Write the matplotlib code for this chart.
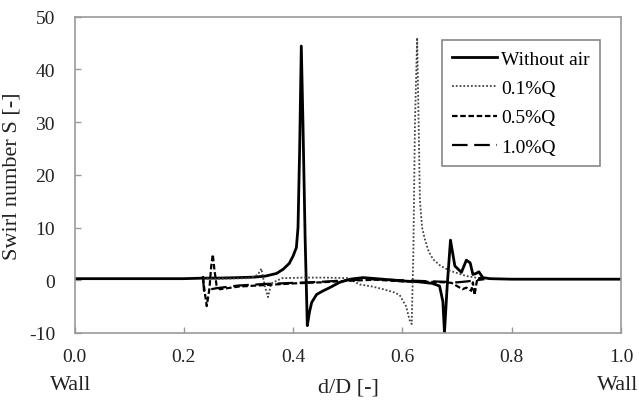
import matplotlib
matplotlib.use("Agg")
import matplotlib.pyplot as plt

plt.rcParams['font.family'] = ['Liberation Serif', 'DejaVu Serif']
plt.rcParams['axes.unicode_minus'] = False

# Without air
x_noair = [0.0, 0.05, 0.1, 0.15, 0.2, 0.235, 0.26, 0.3, 0.33, 0.35, 0.37, 0.382,
           0.393, 0.40, 0.406, 0.409, 0.412, 0.415, 0.418, 0.422, 0.426, 0.43,
           0.434, 0.443, 0.455, 0.467, 0.485, 0.504, 0.528, 0.564, 0.595, 0.63,
           0.655, 0.668, 0.674, 0.677, 0.682, 0.688, 0.696, 0.708, 0.717, 0.724,
           0.729, 0.735, 0.740, 0.747, 0.76, 0.8, 0.9, 1.0]
s_noair = [0.3, 0.3, 0.3, 0.3, 0.3, 0.4, 0.4, 0.5, 0.6, 0.8, 1.3, 2.1,
           3.2, 4.6, 6.2, 10, 25, 44.4, 30, 8, -8.6, -6.0,
           -4.2, -2.7, -2.0, -1.4, -0.4, 0.2, 0.5, 0.2, -0.1, -0.3,
           -0.6, -1.1, -4, -9.9, -1, 7.6, 2.7, 1.5, 3.8, 3.3,
           1.1, 1.3, 1.6, 0.5, 0.3, 0.2, 0.2, 0.2]

# 0.1%Q
x_q01 = [0.235, 0.28, 0.32, 0.335, 0.342, 0.348, 0.354, 0.36, 0.38, 0.42, 0.46,
         0.50, 0.522, 0.545, 0.565, 0.585, 0.595, 0.607, 0.613, 0.617, 0.62,
         0.623, 0.627, 0.630, 0.632, 0.636, 0.641, 0.648, 0.656, 0.67, 0.687,
         0.717, 0.74, 0.75]
s_q01 = [0.3, 0.3, 0.4, 1.0, 2.2, -1.0, -3.2, -0.6, 0.4, 0.5, 0.5,
         0.4, -0.8, -1.2, -1.7, -2.3, -2.8, -5.0, -7.5, -8.3, 5,
         30, 46, 28, 15.3, 10, 7.8, 5.5, 4.0, 2.7, 1.8,
         0.8, 0.4, 0.3]

# 0.5%Q
x_q05 = [0.235, 0.238, 0.242, 0.247, 0.25, 0.253, 0.256, 0.26, 0.266, 0.28, 0.3,
         0.35, 0.4, 0.45, 0.5, 0.55, 0.6, 0.65, 0.68, 0.69, 0.70, 0.71, 0.717,
         0.726, 0.729, 0.732, 0.737, 0.745, 0.75]
s_q05 = [0.5, -2, -4.9, -1.5, 2.5, 4.9, 2, -1.0, -1.7, -1.5, -1.2,
         -0.9, -0.6, -0.4, -0.1, 0.1, -0.2, -0.3, -0.4, -0.5, -1.1, -1.7, -1.4,
         -2.0, -0.4, -2.8, 0.3, 0.5, 0.3]

# 1.0%Q
x_q10 = [0.235, 0.237, 0.245, 0.26, 0.3, 0.35, 0.4, 0.45, 0.5, 0.55, 0.6, 0.65,
         0.68, 0.7, 0.72, 0.75]
s_q10 = [0.8, -2.0, -1.8, -1.5, -1.0, -0.7, -0.5, -0.3, 0.0, 0.2, 0.0, -0.2,
         -0.3, -0.4, -0.2, 0.2]

xticks = [0.0, 0.2, 0.4, 0.6, 0.8, 1.0]
yticks = [-10, 0, 10, 20, 30, 40, 50]

W, H = 639, 402
fig = plt.figure(figsize=(W/100, H/100), dpi=100)
ax = fig.add_axes([74.5/W, 1-334/H, (621-74.5)/W, (334-17.5)/H])

ax.plot(x_noair, s_noair, color='black', lw=2.0, label='Without air')
ax.plot(x_q01, s_q01, color='#444444', lw=1.3, ls=(0, (1, 1.1)), label='0.1%Q')
ax.plot(x_q05, s_q05, color='black', lw=1.6, ls=(0, (2.5, 1.2)), label='0.5%Q')
ax.plot(x_q10, s_q10, color='black', lw=1.6, ls=(0, (7, 3)), label='1.0%Q')

ax.set_xlim(0, 1)
ax.set_ylim(-10, 50)
ax.set_xticks(xticks)
ax.set_xticklabels(['%.1f' % t for t in xticks])
ax.set_yticks(yticks)

for sp in ax.spines.values():
    sp.set_color('#999999')
    sp.set_linewidth(1.2)
ax.tick_params(axis='both', direction='in', length=4, width=1, color='#999999',
               labelsize=14, labelcolor='#222222')
ax.tick_params(axis='x', pad=11)
ax.tick_params(axis='y', pad=14)

leg = ax.legend(loc='upper right', bbox_to_anchor=(0.98, 0.958), fontsize=14,
                handlelength=2.3, handletextpad=0.2, labelspacing=0.6,
                borderpad=0.55, fancybox=False, framealpha=1)
leg.get_frame().set_edgecolor('#888888')
leg.get_frame().set_linewidth(1.2)

fig.text(348/W, 1-388/H, 'd/D [-]', ha='center', va='center', fontsize=16, color='#222222')
fig.text(71/W, 1-386/H, 'Wall', ha='center', va='center', fontsize=16, color='#222222')
fig.text(638/W, 1-386/H, 'Wall', ha='right', va='center', fontsize=16, color='#222222')
fig.text(12/W, 1-176/H, 'Swirl number S [-]', ha='center', va='center', rotation=90,
         fontsize=16, color='#222222')

fig.savefig('out.png', dpi=100)
